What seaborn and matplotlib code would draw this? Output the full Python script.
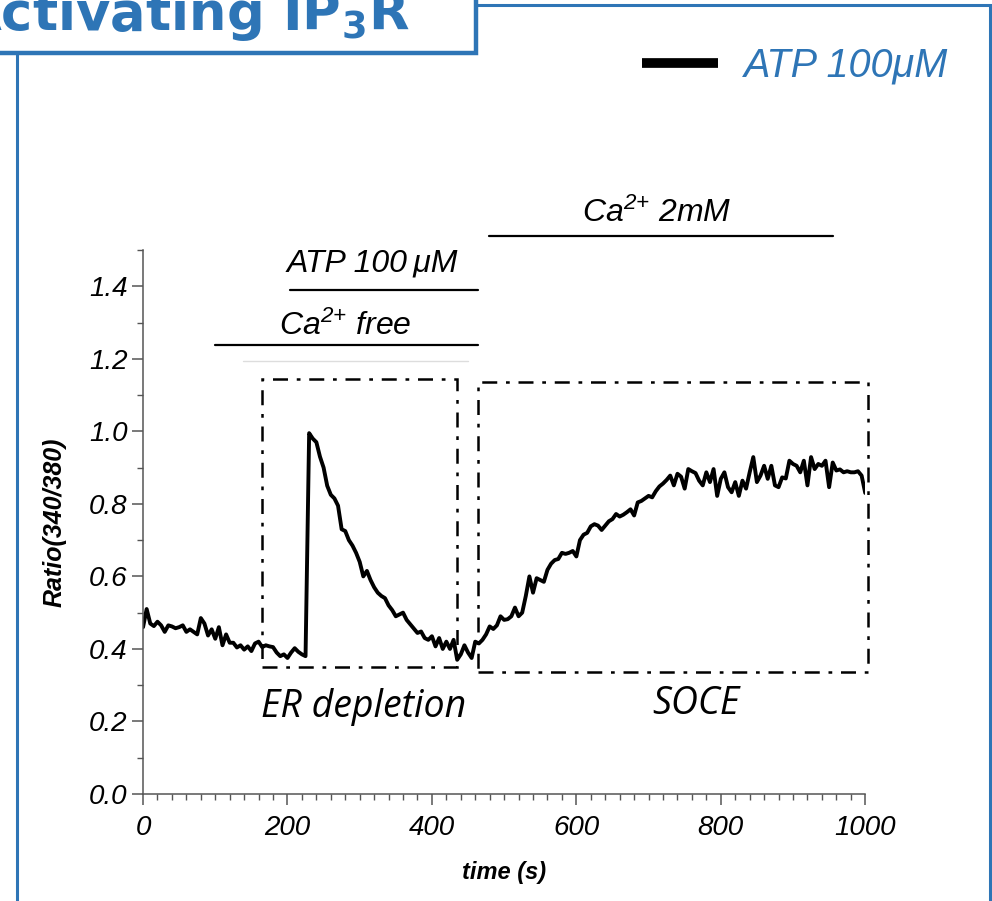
import numpy as np
import pandas as pd
import matplotlib
matplotlib.use("Agg")
import matplotlib.pyplot as plt
import seaborn as sns
from matplotlib.patches import Rectangle
from matplotlib.lines import Line2D
from matplotlib.ticker import MultipleLocator, FormatStrFormatter

# Fura-2 ratio trace, every 5 s
time_s = np.arange(0, 1001, 5)
ratio = [
    0.46, 0.51, 0.47, 0.463, 0.475, 0.465, 0.447, 0.465, 0.462, 0.457,
    0.46, 0.465, 0.447, 0.454, 0.447, 0.44, 0.485, 0.47, 0.437, 0.454,
    0.428, 0.46, 0.41, 0.44, 0.417, 0.417, 0.404, 0.41, 0.398, 0.407,
    0.394, 0.415, 0.42, 0.405, 0.41, 0.407, 0.405, 0.39, 0.38, 0.385,
    0.375, 0.39, 0.402, 0.392, 0.385, 0.38, 0.995, 0.98, 0.97, 0.93,
    0.90, 0.85, 0.825, 0.815, 0.795, 0.73, 0.725, 0.70, 0.685, 0.665,
    0.64, 0.60, 0.615, 0.59, 0.57, 0.555, 0.546, 0.54, 0.52, 0.507,
    0.49, 0.495, 0.50, 0.48, 0.468, 0.456, 0.444, 0.448, 0.43, 0.425,
    0.435, 0.407, 0.43, 0.40, 0.42, 0.40, 0.425, 0.37, 0.385, 0.41,
    0.39, 0.375, 0.42, 0.415, 0.425, 0.44, 0.462, 0.455, 0.465, 0.49,
    0.48, 0.482, 0.49, 0.514, 0.49, 0.50, 0.546, 0.60, 0.555, 0.595,
    0.59, 0.585, 0.618, 0.635, 0.645, 0.648, 0.665, 0.662, 0.665, 0.67,
    0.655, 0.70, 0.715, 0.72, 0.738, 0.744, 0.74, 0.728, 0.74, 0.752,
    0.758, 0.772, 0.765, 0.77, 0.777, 0.785, 0.768, 0.804, 0.808, 0.815,
    0.822, 0.818, 0.835, 0.848, 0.856, 0.866, 0.878, 0.851, 0.883, 0.875,
    0.842, 0.896, 0.89, 0.885, 0.864, 0.851, 0.887, 0.86, 0.896, 0.822,
    0.869, 0.887, 0.846, 0.832, 0.86, 0.822, 0.864, 0.842, 0.887, 0.929,
    0.86, 0.878, 0.905, 0.869, 0.905, 0.851, 0.846, 0.873, 0.87, 0.919,
    0.91, 0.905, 0.887, 0.919, 0.851, 0.929, 0.896, 0.91, 0.905, 0.919,
    0.846, 0.914, 0.892, 0.895, 0.887, 0.89, 0.887, 0.887, 0.89, 0.878,
    0.83,
]

# perfusion bars: (label, start, end, bar level, label level, label x)
treatments = [
    ("Ca$^{2{+}}$ free", 100, 464, 1.237, 1.267, 280),
    ("ATP 100\u2009\u03bcM", 204, 464, 1.391, 1.441, 318),
    ("Ca$^{2{+}}$ 2mM", 479, 956, 1.538, 1.577, 712),
]

# dash-dot boxes: (label, t0, t1, y0, y1, label x, label y)
phases = [
    ("ER depletion", 165, 435, 0.349, 1.145, 306, 0.213),
    ("SOCE", 464, 1004, 0.337, 1.137, 766, 0.221),
]

blue = "#2E75B6"

sns.set_style("ticks")
plt.rcParams["font.family"] = ["Liberation Sans", "DejaVu Sans"]
plt.rcParams["font.style"] = "italic"
plt.rcParams["text.color"] = "black"
plt.rcParams["axes.labelcolor"] = "black"
plt.rcParams["xtick.labelcolor"] = "black"
plt.rcParams["ytick.labelcolor"] = "black"
plt.rcParams["mathtext.fontset"] = "custom"
plt.rcParams["mathtext.rm"] = "Liberation Sans:italic"
plt.rcParams["mathtext.it"] = "Liberation Sans:italic"
plt.rcParams["mathtext.bf"] = "DejaVu Sans:style=normal:weight=bold"

df = pd.DataFrame({"time": time_s, "ratio": ratio})

fig = plt.figure(figsize=(9.92, 9.01), dpi=100)
ax = fig.add_axes([0.1442, 0.1188, 0.728, 0.6037])

sns.lineplot(data=df, x="time", y="ratio", ax=ax, color="black", lw=2.8)

ax.set_xlim(0, 1000)
ax.set_ylim(0, 1.5)
ax.xaxis.set_major_locator(MultipleLocator(200))
ax.xaxis.set_minor_locator(MultipleLocator(20))
ax.yaxis.set_major_locator(MultipleLocator(0.2))
ax.yaxis.set_minor_locator(MultipleLocator(0.1))
ax.yaxis.set_major_formatter(FormatStrFormatter("%.1f"))
ax.xaxis.set_major_formatter(FormatStrFormatter("%d"))
sns.despine(ax=ax)
for sp in ["left", "bottom"]:
    ax.spines[sp].set_color("#555555")
    ax.spines[sp].set_linewidth(1.1)
ax.tick_params(which="major", length=8, width=1.1, color="#555555", labelsize=20)
ax.tick_params(which="minor", length=4, width=1.0, color="#555555")
ax.tick_params(axis="x", which="major", pad=7)
ax.tick_params(axis="y", which="major", pad=3)

ax.set_xlabel("time (s)", fontsize=17, fontweight="bold", va="center")
ax.set_ylabel("Ratio(340/380)", fontsize=18, fontweight="bold", va="center")
ax.xaxis.set_label_coords(0.5, -0.145)
ax.yaxis.set_label_coords(-0.122, 0.5)

# treatment bars above the trace
for label, t0, t1, ybar, ytxt, xtxt in treatments:
    ax.plot([t0, t1], [ybar, ybar], color="black", lw=1.6, clip_on=False)
    ax.text(xtxt, ytxt, label, fontsize=23, ha="center", va="baseline")
ax.plot([138, 450], [1.195, 1.195], color="#dddddd", lw=1, clip_on=False)

# phase boxes
for label, t0, t1, y0, y1, xt, yt in phases:
    ax.add_patch(Rectangle((t0, y0), t1 - t0, y1 - y0, fill=False, ec="black",
                           lw=1.8, ls=(0, (6, 3.5, 1.5, 3.5)), clip_on=False))
    ax.text(xt, yt, label, fontsize=27, family="Open Sans", style="italic",
            ha="center", va="baseline")

# blue panel frame and title box
fig.add_artist(Rectangle((17 / 992, -0.05), 973 / 992, 1.05 - 5 / 901,
                         transform=fig.transFigure, fill=False, ec=blue, lw=2.2))
fig.add_artist(Rectangle((-0.05, 1 - 53 / 901), 0.05 + 476 / 992, 0.2,
                         transform=fig.transFigure, fc="white", ec=blue, lw=3.2))
fig.text(410 / 992, 1 - 30 / 901, r"Activating IP$_\mathbf{3}$R", color=blue,
         fontsize=38, family="DejaVu Sans", fontweight="bold", style="normal",
         ha="right", va="baseline")

fig.legend(handles=[Line2D([], [], color="black", lw=7, solid_capstyle="butt")],
           labels=["ATP 100\u03bcM"], loc="center left",
           bbox_to_anchor=(642 / 992, 1 - 66 / 901), frameon=False,
           borderpad=0, borderaxespad=0, handlelength=1.93, handletextpad=0.64,
           prop=dict(family="Liberation Sans", style="italic", size=28.5),
           labelcolor=blue)

fig.savefig("out.png", dpi=100)
